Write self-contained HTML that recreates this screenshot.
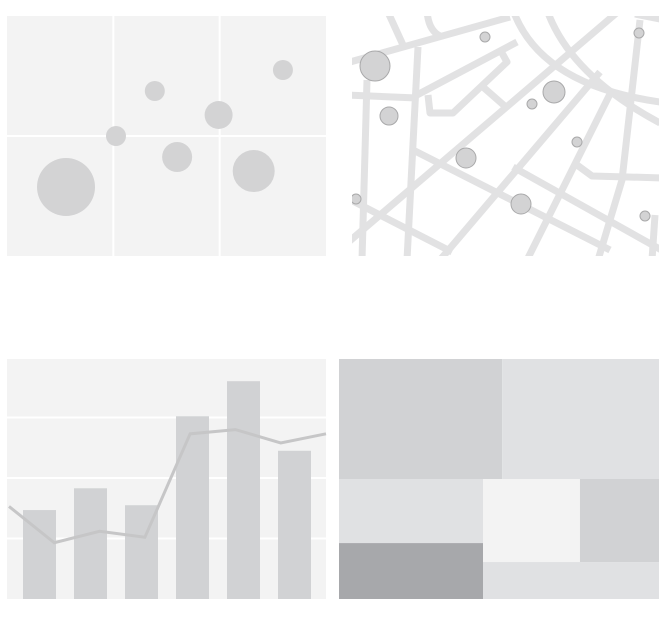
<!DOCTYPE html>
<html><head><meta charset="utf-8"><style>
html,body{margin:0;padding:0;background:#fff;width:667px;height:628px;overflow:hidden;font-family:"Liberation Sans",sans-serif}
svg{display:block}
</style></head><body>
<svg id="s" width="667" height="628">
<g id="bubble"></g>
<g id="map"></g>
<g id="bar"></g>
<g id="tree"></g>
</svg>
<script>
const NS="http://www.w3.org/2000/svg";
function mk(p,t,a){const e=document.createElementNS(NS,t);for(const k in a)e.setAttribute(k,a[k]);p.appendChild(e);return e;}

// Bubble data
const bubbleX=[0.555,1.025,1.39,1.6,1.99,2.32,2.595];
const bubbleY=[0.575,1.0,1.375,0.825,1.175,0.708,1.55];
const bubbleR=[29,10,10,15,14,21,10];
// Bar data
const barValues=[1.47,1.83,1.55,3.02,3.6,2.45];
const lineValues=[1.53,0.93,1.12,1.02,2.73,2.8,2.58,2.73];
const barGrid=[1,2,3];
// Treemap cells [x0,y0,x1,y1] in 0..1 units, and shades
const treeCells=[[0,0,0.51,0.5],[0.51,0,1,0.5],[0,0.5,0.45,0.767],[0,0.767,0.45,1],[0.45,0.5,0.753,0.846],[0.753,0.5,1,0.846],[0.45,0.846,1,1]];
const treeFill=["#d1d2d4","#e0e1e3","#e0e1e3","#a7a8ab","#f3f3f3","#d1d2d4","#e0e1e3"];

// Bubble chart
(function(){
 const g=document.getElementById('bubble');const L=7,T=16,W=319,H=240;
 const sx=v=>L+v*W/3, sy=v=>T+H-v*H/2;
 let r=mk(g,'rect',{x:L,y:T,width:W,height:H,fill:'#f3f3f3'});
 
 [1,2].forEach(v=>{let l=mk(g,'line',{x1:sx(v),x2:sx(v),y1:T,y2:T+H,stroke:'#fff','stroke-width':2});
  });
 let l=mk(g,'line',{x1:L,x2:L+W,y1:sy(1),y2:sy(1),stroke:'#fff','stroke-width':2});
 
 bubbleX.forEach((x,i)=>{let c=mk(g,'circle',{cx:sx(x),cy:sy(bubbleY[i]),r:bubbleR[i],fill:'#d3d3d4'});
  });
})();

// Map
(function(){
 const g=document.getElementById('map');
 let cp=mk(g,'clipPath',{id:'mc'});mk(cp,'rect',{x:352,y:16,width:307,height:240});
 const rg=mk(g,'g',{'clip-path':'url(#mc)'});
 mk(rg,'rect',{x:352,y:16,width:307,height:240,fill:'#fff'});
 const roads=["M350 62 L510 17","M387 10 L403 45","M427 10 Q428 30 440 36","M367 80 L362 260","M345 95 L417 98",
 "M418 47 L407 260","M417 95 L517 42","M428 95 L430 113 L453 113 L507 62 L502 53",
 "M483 87 L507 108","M513 10 Q540 85 660 102","M547 10 Q570 75 660 123","M345 245 L620 10",
 "M440 260 L600 72","M527 260 L612 90","M640 20 L622 180 L598 260","M345 197 L452 252",
 "M413 150 L610 250","M513 167 L665 252","M577 165 L592 176 L665 178","M635 14 L665 20","M655 215 L652 260"];
 roads.forEach(d=>{let p=mk(rg,'path',{d:d,fill:'none',stroke:'#e2e2e3','stroke-width':7,'stroke-linejoin':'round'});
  });
 const pts=[[375,66,15],[485,37,5],[389,116,9],[554,92,11],[532,104,5],[639,33,5],[577,142,5],[466,158,10],[356,199,5],[521,204,10],[645,216,5]];
 pts.forEach(p=>{let c=mk(rg,'circle',{cx:p[0],cy:p[1],r:p[2],fill:'#d3d3d4',stroke:'#a9a9aa','stroke-width':1});
  });
})();

// Bar + line chart
(function(){
 const g=document.getElementById('bar');const L=7,T=359,W=319,H=240,B=599;
 const sy=v=>B-v*60.5;
 let r=mk(g,'rect',{x:L,y:T,width:W,height:H,fill:'#f3f3f3'});
 
 barGrid.forEach(v=>{let l=mk(g,'line',{x1:L,x2:L+W,y1:sy(v),y2:sy(v),stroke:'#fff','stroke-width':2});
  });
 barValues.forEach((v,i)=>{let b=mk(g,'rect',{x:23+i*51,y:sy(v),width:33,height:B-sy(v),fill:'#d1d2d4'});
  });
 const lx=i=>9+i*(317/7);
 let p=mk(g,'polyline',{points:lineValues.map((v,i)=>lx(i)+','+sy(v)).join(' '),fill:'none',stroke:'#c6c6c7','stroke-width':3});
 
})();

// Treemap
(function(){
 const g=document.getElementById('tree');const L=339,T=359,W=320,H=240;
 treeCells.forEach((c,i)=>{let r=mk(g,'rect',{x:L+c[0]*W,y:T+c[1]*H,width:(c[2]-c[0])*W,height:(c[3]-c[1])*H,fill:treeFill[i]});
  });
})();
</script>
</body></html>
